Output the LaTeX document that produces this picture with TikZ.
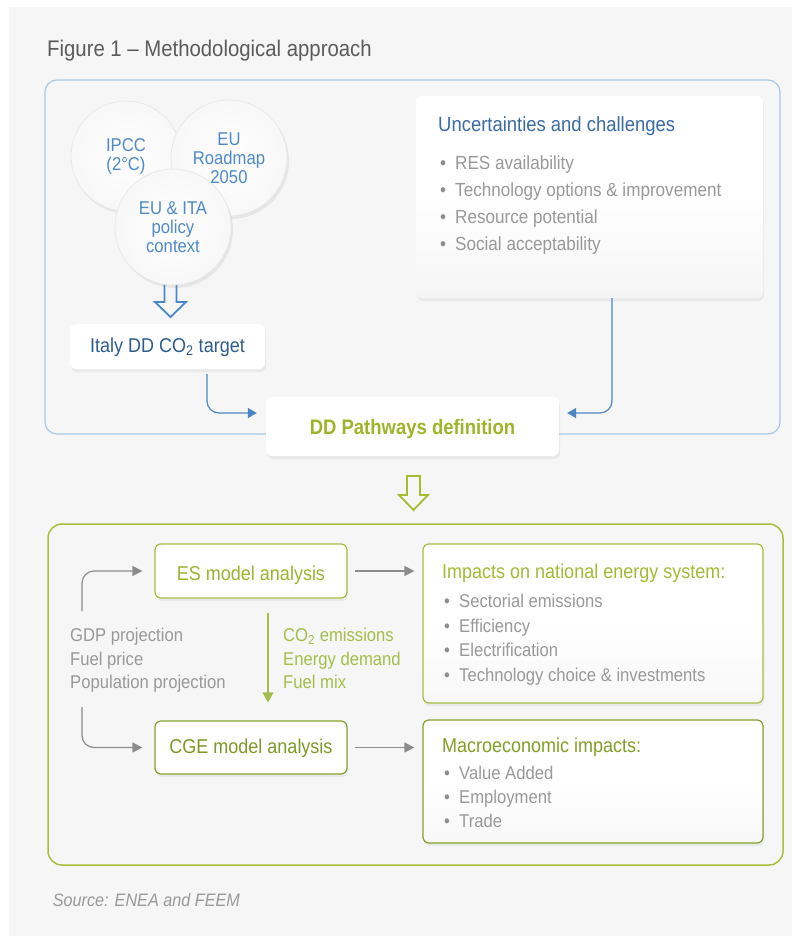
\documentclass[tikz,border=0pt]{standalone}
\usepackage{fontspec}
\setmainfont{Liberation Sans}[FakeStretch=0.9]
\newfontfamily\condfont{Liberation Sans}[FakeStretch=0.88]
\usetikzlibrary{arrows.meta,shadows,calc}

\definecolor{bgc}{HTML}{F6F6F6}
\definecolor{blueframe}{HTML}{A7C7E7}
\definecolor{bluearr}{HTML}{4A87C6}
\definecolor{circtext}{HTML}{4E89C9}
\definecolor{italytext}{HTML}{2D5D90}
\definecolor{unctitle}{HTML}{3B6BA5}
\definecolor{ddgreen}{HTML}{9DB52A}
\definecolor{estext}{HTML}{9AB52F}
\definecolor{esborder}{HTML}{A5BE3F}
\definecolor{cgetext}{HTML}{7C9A26}
\definecolor{cgeborder}{HTML}{84A02B}
\definecolor{imptitle}{HTML}{A1BB34}
\definecolor{mactitle}{HTML}{80A026}
\definecolor{co2text}{HTML}{A4BD49}
\definecolor{graytext}{HTML}{999999}
\definecolor{bulc}{HTML}{8E8E8E}
\definecolor{grayarr}{HTML}{8C8C8C}
\definecolor{titlec}{HTML}{5B5B5B}
\definecolor{greenframe}{HTML}{A8BF3C}
\definecolor{greenholl}{HTML}{A4BC32}
\definecolor{circedge}{HTML}{E6E6E6}

\newcommand{\myblt}[1]{\makebox[15pt][l]{\textcolor{bulc}{\textbullet}}#1}

\tikzset{
  whitebox/.style={fill=white, rounded corners=6pt, inner sep=0pt,
    drop shadow={shadow xshift=1pt, shadow yshift=-3pt, opacity=0.10}},
  circ/.style={circle, inner sep=0pt, draw=circedge, line width=0.6pt, inner color=white, outer color=black!3,
    drop shadow={shadow xshift=2pt, shadow yshift=-3pt, opacity=0.13},
    text=circtext, align=center, font=\fontsize{18.5}{19}\selectfont},
  listtxt/.style={anchor=base west, inner sep=0pt, text=graytext, font=\fontsize{19}{24}\selectfont},
  lowtxt/.style={anchor=base west, inner sep=0pt, text=graytext, font=\fontsize{18.5}{24}\selectfont},
  blueline/.style={draw=bluearr, line width=1.2pt, rounded corners=12pt,
    -{Triangle[length=9pt,width=10pt]}},
  grayline/.style={draw=grayarr, line width=1.2pt, rounded corners=12pt,
    -{Triangle[length=10pt,width=10pt]}},
  greenline/.style={draw=co2text, line width=1.3pt,
    -{Triangle[length=10pt,width=11pt]}},
}

\begin{document}
\begin{tikzpicture}[x=1pt,y=-1pt]
\useasboundingbox (0,0) rectangle (792,936);
\fill[white] (0,0) rectangle (792,936);
\fill[bgc] (9,7) rectangle (792,936);

% title
\node[anchor=base west, inner sep=0pt, text=titlec, font=\fontsize{22.6}{24}\selectfont] (title) at (47,56.7) {Figure 1 – Methodological approach};

% frames
\draw[blueframe, line width=1.2pt, rounded corners=12pt] (45,80) rectangle (780,434);
\draw[greenframe, line width=1.5pt, rounded corners=14pt] (48,524) rectangle (783,865);

% hollow blue arrow
\draw[bluearr, line width=1.8pt, line join=miter] (164.5,284) -- (164.5,302) -- (155,302) -- (170.5,317) -- (186,302) -- (176.5,302) -- (176.5,284);

% circles
\node[circ, minimum size=110pt] (ipcc) at (126,156) {IPCC\\(2°C)};
\node[circ, minimum size=116pt] (road) at (229,158) {EU\\Roadmap\\2050};
\node[circ, minimum size=116pt] (euita) at (173,227) {EU \& ITA\\policy\\context};

% Italy target
\node[whitebox, minimum width=195pt, minimum height=45pt, text=italytext, text height=12pt, text depth=0pt,
      font=\fontsize{20}{24}\selectfont] (italy) at (167.5,346.5) {Italy DD CO\textsubscript{2} target};

% Uncertainties box
\node[whitebox, top color=white, bottom color=black!4, middle color=white,
      minimum width=347pt, minimum height=202pt] (unc) at (589.5,197) {};
\node[anchor=base west, inner sep=0pt, text=unctitle, font=\fontsize{20.5}{24}\selectfont] (unct) at (438,131.5) {Uncertainties and challenges};
\node[listtxt] (u1) at (440,170) {\myblt{RES availability}};
\node[listtxt] (u2) at (440,196.7) {\myblt{Technology options \& improvement}};
\node[listtxt] (u3) at (440,223.3) {\myblt{Resource potential}};
\node[listtxt] (u4) at (440,250) {\myblt{Social acceptability}};

% DD pathways
\node[whitebox, minimum width=293pt, minimum height=59pt, text=ddgreen, text height=15pt, text depth=0pt,
      font=\condfont\bfseries\fontsize{21}{24}\selectfont] (dd) at (412.5,426.5) {DD Pathways definition};

\draw[blueline, shorten >=9pt] ([xshift=39.5pt,yshift=-5pt]italy.south) |- ([yshift=13.5pt]dd.west);
\draw[blueline, shorten >=8pt] ([xshift=22.5pt]unc.south) |- ([yshift=13.5pt]dd.east);

% hollow green arrow
\draw[greenholl, line width=1.8pt, line join=miter] (407,476) -- (420,476) -- (420,495) -- (428,495) -- (413.5,510) -- (399,495) -- (407,495) -- cycle;

% lower part
\node[whitebox, draw=esborder, line width=1.2pt, minimum width=192pt, minimum height=54pt, text height=19pt, text depth=0pt,
      text=estext, font=\fontsize{20}{24}\selectfont] (es) at (251,571) {ES model analysis};
\node[whitebox, draw=cgeborder, line width=1.2pt, minimum width=192pt, minimum height=53pt, text height=12pt, text depth=0pt,
      text=cgetext, font=\fontsize{20}{24}\selectfont] (cge) at (251,747.5) {CGE model analysis};

\node[whitebox, draw=esborder, line width=1.2pt, top color=white, bottom color=black!3, middle color=white,
      minimum width=340pt, minimum height=159pt] (imp) at (593,623.5) {};
\node[whitebox, draw=cgeborder, line width=1.2pt, top color=white, bottom color=black!3, middle color=white,
      minimum width=340pt, minimum height=123pt] (mac) at (593,781.5) {};

\node[anchor=base west, inner sep=0pt, text=imptitle, font=\fontsize{20}{24}\selectfont] (impt) at (442,578) {Impacts on national energy system:};
\node[lowtxt] (i1) at (444,607) {\myblt{Sectorial emissions}};
\node[lowtxt] (i2) at (444,632) {\myblt{Efficiency}};
\node[lowtxt] (i3) at (444,656) {\myblt{Electrification}};
\node[lowtxt] (i4) at (444,681) {\myblt{Technology choice \& investments}};

\node[anchor=base west, inner sep=0pt, text=mactitle, font=\fontsize{20}{24}\selectfont] (mact) at (442,752) {Macroeconomic impacts:};
\node[lowtxt] (m1) at (444,779) {\myblt{Value Added}};
\node[lowtxt] (m2) at (444,803) {\myblt{Employment}};
\node[lowtxt] (m3) at (444,827) {\myblt{Trade}};

\node[lowtxt] (gdp) at (70,641) {GDP projection};
\node[lowtxt] (fuel) at (70,665) {Fuel price};
\node[lowtxt] (pop) at (70,688) {Population projection};

\node[lowtxt, text=co2text] (co2) at (283,641) {CO\textsubscript{2} emissions};
\node[lowtxt, text=co2text] (edem) at (283,665) {Energy demand};
\node[lowtxt, text=co2text] (fmix) at (283,688) {Fuel mix};

\coordinate (bt) at (82,611);
\coordinate (bb) at (82,707);
\draw[grayline, shorten >=12pt] (bt) |- (es.west);
\draw[grayline, shorten >=12pt] (bb) |- (cge.west);
\draw[grayline, shorten <=7pt, shorten >=8pt] (es.east) -- (es.east -| imp.west);
\draw[grayline, shorten <=7pt, shorten >=8pt] (cge.east) -- (cge.east -| mac.west);
\draw[greenline] ([xshift=17pt,yshift=-14pt]es.south) -- ([xshift=17pt,yshift=18pt]cge.north);

% source
\node[anchor=base west, inner sep=0pt, text=graytext, font=\itshape\fontsize{18}{24}\selectfont] (src) at (52.7,906.7) {Source: ENEA and FEEM};
\end{tikzpicture}
\end{document}
